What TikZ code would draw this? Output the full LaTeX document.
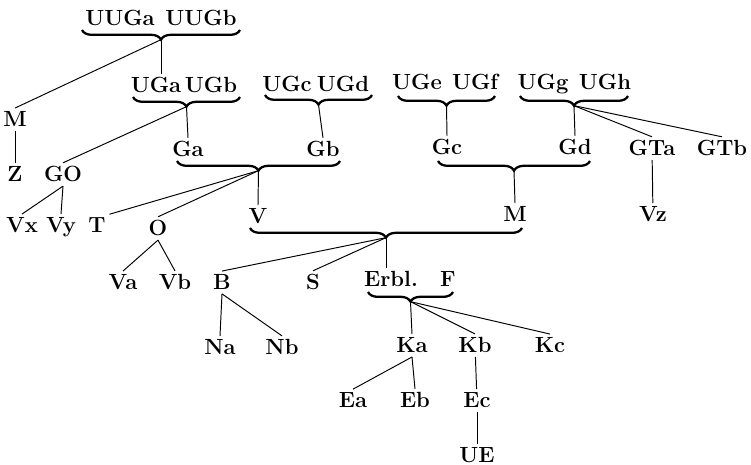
\documentclass[tikz,border=0pt]{standalone}
\usetikzlibrary{decorations.pathreplacing,calc}
\begin{document}
\begin{tikzpicture}[x=0.02cm, y=-0.02cm,
    lbl/.style={font=\fontsize{12.5}{14}\selectfont\bfseries, anchor=base, inner sep=2pt},
    grp/.style={decorate, decoration={brace, mirror, amplitude=5.5pt}, line width=1.3pt},
    link/.style={line width=0.55pt}]
    \useasboundingbox (0,0) rectangle (751,465);

    \node[lbl] (uuga) at (120,26) {UUGa};
    \node[lbl] (uugb) at (201,26) {UUGb};
    \node[lbl] (uga) at (156,93) {UGa};
    \node[lbl] (ugb) at (211,93) {UGb};
    \node[lbl] (ugc) at (287,92) {UGc};
    \node[lbl] (ugd) at (343,92) {UGd};
    \node[lbl] (uge) at (417,90) {UGe};
    \node[lbl] (ugf) at (475,90) {UGf};
    \node[lbl] (ugg) at (543,90) {UGg};
    \node[lbl] (ugh) at (605,90) {UGh};

    \node[lbl] (m1) at (15,127) {M};
    \node[lbl] (z) at (15,182) {Z};
    \node[lbl] (go) at (63,182) {GO};
    \node[lbl] (ga) at (188,157) {Ga};
    \node[lbl] (gb) at (323,157) {Gb};
    \node[lbl] (gc) at (447,155) {Gc};
    \node[lbl] (gd) at (575,155) {Gd};
    \node[lbl] (gta) at (652,156) {GTa};
    \node[lbl] (gtb) at (722,156) {GTb};

    \node[lbl] (vx) at (22,233) {Vx};
    \node[lbl] (vy) at (61,233) {Vy};
    \node[lbl] (t) at (97,233) {T};
    \node[lbl] (o) at (158,236) {O};
    \node[lbl] (v) at (258,224) {V};
    \node[lbl] (m2) at (515,222) {M};
    \node[lbl] (vz) at (653,222) {Vz};

    \node[lbl] (va) at (123,290) {Va};
    \node[lbl] (vb) at (175,290) {Vb};
    \node[lbl] (b) at (222,290) {B};
    \node[lbl] (s) at (313,290) {S};
    \node[lbl] (erbl) at (391,287) {Erbl.};
    \node[lbl] (f) at (448,287) {F};

    \node[lbl] (na) at (220,355) {Na};
    \node[lbl] (nb) at (282,355) {Nb};
    \node[lbl] (ka) at (412,353) {Ka};
    \node[lbl] (kb) at (475,353) {Kb};
    \node[lbl] (kc) at (550,353) {Kc};
    \node[lbl] (ea) at (353,408) {Ea};
    \node[lbl] (eb) at (415,408) {Eb};
    \node[lbl] (ec) at (477,408) {Ec};
    \node[lbl] (ue) at (477,463) {UE};

    \draw[grp] (82,30) -- coordinate[yshift=-5.5pt] (uug) (240,30);
    \draw[grp] (133,97) -- coordinate[yshift=-5.5pt] (ugab) (240,97);
    \draw[grp] (265,95) -- coordinate[yshift=-5.5pt] (ugcd) (372,95);
    \draw[grp] (398,96) -- coordinate[yshift=-5.5pt] (ugef) (495,96);
    \draw[grp] (520,96) -- coordinate[yshift=-5.5pt] (uggh) (628,96);
    \draw[grp] (177,161) -- coordinate[yshift=-5.5pt] (gab) (340,161);
    \draw[grp] (438,161) -- coordinate[yshift=-5.5pt] (gcd) (590,161);
    \draw[grp] (250,228) -- coordinate[yshift=-5.5pt] (vm) (522,228);
    \draw[grp] (368,292) -- coordinate[yshift=-5.5pt] (ef) (453,292);

    \draw[link] (uug) -- (uug |- uga.north);
    \draw[link] (uug) -- (m1.north);
    \draw[link] (m1) -- (z);
    \draw[link] (ugab) -- (go.north);
    \draw[link] (ugab) -- (ga.north);
    \draw[link] (ugcd) -- (gb.north);
    \draw[link] (ugef) -- (gc.north);
    \draw[link] (uggh) -- (gd.north);
    \draw[link] (uggh) -- (gta.north);
    \draw[link] (uggh) -- (gtb.north);
    \draw[link] (go.south) -- (vx.north);
    \draw[link] (go.south) -- (vy.north);
    \draw[link] (gab) -- (v.north);
    \draw[link] (gab) -- (t.north east);
    \draw[link] (gab) -- (o.north);
    \draw[link] (o.south) -- (va.north);
    \draw[link] (o.south) -- (vb.north);
    \draw[link] (gcd) -- (m2.north);
    \draw[link] (gta) -- (vz);
    \draw[link] (vm) -- (b.north);
    \draw[link] (vm) -- (s.north);
    \draw[link] (vm) -- (vm |- erbl.north);
    \draw[link] (b.south) -- (na.north);
    \draw[link] (b.south) -- (nb.north);
    \draw[link] (ef) -- (ka.north);
    \draw[link] (ef) -- (kb.north);
    \draw[link] (ef) -- (kc.north);
    \draw[link] (ka.south) -- (ea.north);
    \draw[link] (ka.south) -- (eb.north);
    \draw[link] (kb) -- (ec);
    \draw[link] (ec) -- (ue);
\end{tikzpicture}
\end{document}
